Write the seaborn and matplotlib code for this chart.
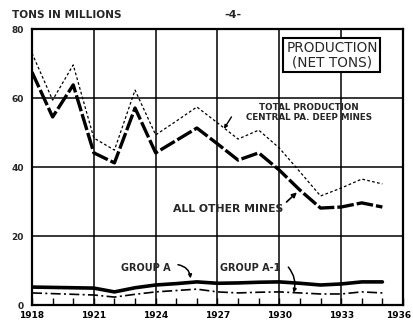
import matplotlib
matplotlib.use("Agg")
import matplotlib.pyplot as plt
import matplotlib.transforms as mtransforms
import seaborn as sns
import pandas as pd

# Annual production, millions of net tons
years = [1918, 1919, 1920, 1921, 1922, 1923, 1924, 1925, 1926,
         1927, 1928, 1929, 1930, 1931, 1932, 1933, 1934, 1935]
total_production = [73.0, 59.4, 69.6, 48.4, 44.9, 62.3, 49.3, 53.3, 57.4,
                    52.8, 48.1, 50.7, 45.5, 38.6, 31.6, 33.9, 36.5, 35.1]
all_other_mines = [67.5, 54.5, 63.8, 44.1, 41.2, 57.1, 44.1, 47.7, 51.3,
                   46.7, 42.0, 44.1, 39.1, 33.3, 28.1, 28.4, 29.6, 28.4]
group_a = [5.2, 5.1, 5.0, 4.9, 3.8, 5.0, 5.8, 6.2, 6.7,
           6.3, 6.4, 6.6, 6.7, 6.3, 5.8, 6.1, 6.7, 6.7]
group_a1 = [3.5, 3.3, 3.1, 2.9, 2.3, 3.1, 3.8, 4.2, 4.6,
            3.8, 3.5, 3.7, 3.8, 3.5, 3.2, 3.2, 3.8, 3.5]

x_major = [1918, 1921, 1924, 1927, 1930, 1933, 1936]
y_major = [0, 20, 40, 60, 80]

df = pd.DataFrame({"year": years, "total": total_production,
                   "other": all_other_mines, "a": group_a, "a1": group_a1})

sns.set_style("white")
plt.rcParams["font.family"] = ["DejaVu Sans"]

fig = plt.figure(figsize=(4.14, 3.23), dpi=100)
ax = fig.add_axes([0.0773, 0.0557, 0.8961, 0.8545])

sns.lineplot(data=df, x="year", y="total", ax=ax, color="black", lw=0.9,
             linestyle=(0, (2.2, 1.8)))
sns.lineplot(data=df, x="year", y="other", ax=ax, color="black", lw=2.4,
             linestyle=(0, (5, 0.9)))
sns.lineplot(data=df, x="year", y="a", ax=ax, color="black", lw=2.6)
sns.lineplot(data=df, x="year", y="a1", ax=ax, color="black", lw=1.2,
             linestyle=(0, (6, 2, 1.2, 2)))

ax.set_xlim(1918, 1936)
ax.set_ylim(0, 80)
ax.set_xticks(x_major)
ax.set_xticks(years[1:] + [1936], minor=True)
ax.set_yticks(y_major)
ax.set_xticklabels([str(y) for y in x_major], fontsize=6.5, fontweight="bold")
ax.set_yticklabels([str(v) for v in y_major], fontsize=6.5, fontweight="bold")
ax.tick_params(axis="x", which="both", direction="in", length=5, width=1.0,
               pad=4, bottom=True, colors="black")
ax.tick_params(axis="y", which="both", length=0, pad=6)
ax.set_xlabel("")
ax.set_ylabel("")
ax.grid(True, which="major", color="black", lw=1.1)
for s in ax.spines.values():
    s.set_color("black")
    s.set_linewidth(1.6)

# keep the last year label inside the page edge
last = ax.get_xticklabels()[-1]
last.set_transform(last.get_transform() +
                   mtransforms.ScaledTranslation(-3 / 72, 0, fig.dpi_scale_trans))

fig.text(0.029, 0.955, "TONS IN MILLIONS", fontsize=7.6, fontweight="bold",
         va="center", ha="left")
fig.text(0.563, 0.955, "-4-", fontsize=8, fontweight="bold",
         va="center", ha="center")

ax.text(1932.55, 72.5, "PRODUCTION\n(NET TONS)", fontsize=9.8,
        ha="center", va="center", linespacing=1.05,
        bbox=dict(boxstyle="square,pad=0.2", fc="white", ec="black", lw=1.5))

ax.text(1931.45, 55.8, "TOTAL PRODUCTION\nCENTRAL PA. DEEP MINES", fontsize=6.3,
        fontweight="bold", ha="center", va="center", linespacing=1.1)
ax.annotate("", xy=(1927.24, 50.4), xytext=(1927.75, 55.2),
            arrowprops=dict(arrowstyle="-|>", color="black", lw=1.0,
                            mutation_scale=5))

ax.text(1927.5, 27.8, "ALL OTHER MINES", fontsize=7.8, fontweight="bold",
        ha="center", va="center")
ax.annotate("", xy=(1930.95, 33.2), xytext=(1930.25, 29.3),
            arrowprops=dict(arrowstyle="-|>", color="black", lw=1.2,
                            mutation_scale=7))

ax.text(1923.5, 10.7, "GROUP A", fontsize=7, fontweight="bold",
        ha="center", va="center")
ax.annotate("", xy=(1925.7, 6.9), xytext=(1924.95, 11.8),
            arrowprops=dict(arrowstyle="-|>", color="black", lw=1.1,
                            mutation_scale=5,
                            connectionstyle="arc3,rad=-0.45"))

ax.text(1928.6, 10.7, "GROUP A-1", fontsize=7, fontweight="bold",
        ha="center", va="center")
ax.annotate("", xy=(1930.65, 2.8), xytext=(1930.35, 11.6),
            arrowprops=dict(arrowstyle="-|>", color="black", lw=1.1,
                            mutation_scale=5,
                            connectionstyle="arc3,rad=-0.3"))

fig.savefig("out.png", dpi=100, facecolor="white")
